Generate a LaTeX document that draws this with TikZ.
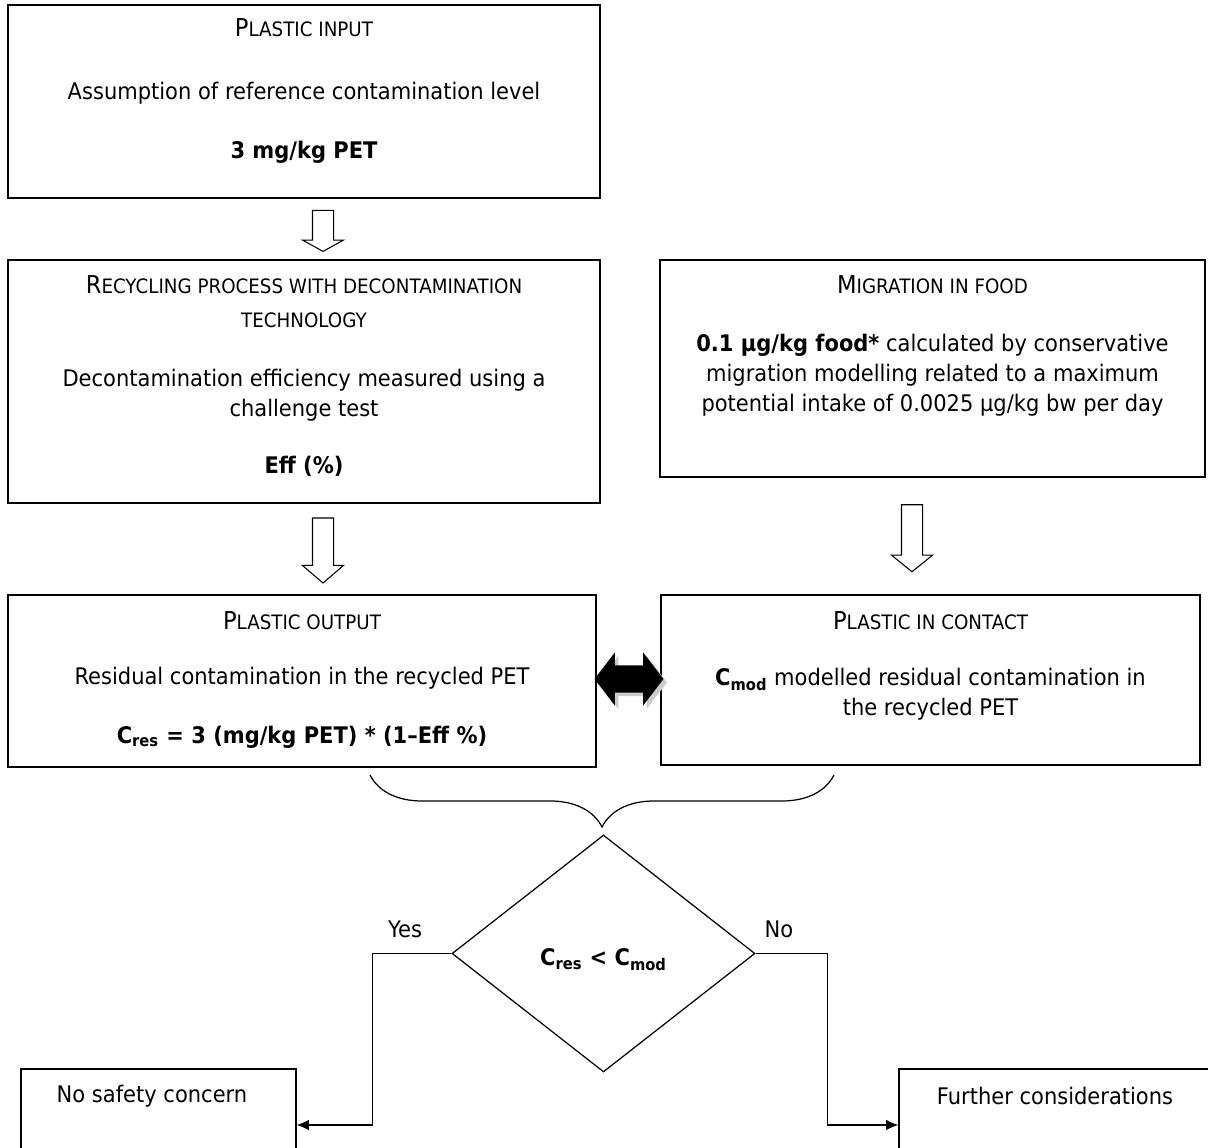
\documentclass[tikz,border=0pt]{standalone}
\usepackage{fontspec}
\setmainfont{DejaVu Sans}[FakeStretch=0.92]
\usetikzlibrary{shapes.geometric,shapes.arrows,shadows,arrows.meta,decorations.pathreplacing}
\newcommand{\smc}[2]{{\fontsize{14}{16}\selectfont #1}{\fontsize{11.3}{13}\selectfont #2}}

\begin{document}
\begin{tikzpicture}[x=0.02cm, y=-0.02cm, line width=0.7pt,
    box/.style={draw, rectangle, inner sep=0pt},
    txt/.style={font=\fontsize{13}{17}\selectfont, inner sep=0pt, align=center},
    hollow/.style={draw, single arrow, shape border rotate=270, inner sep=0.2cm,
        single arrow head extend=0.2cm, line width=0.6pt},
    >={Latex[length=7pt,width=6pt]}]
    \useasboundingbox (0,0) rectangle (1208,1148);

    % Plastic input
    \node[box, minimum width=11.84cm, minimum height=3.86cm] (inp) at (304,101.5) {};
    \node[txt] (inpH) at (304,28) {\smc{P}{LASTIC INPUT}};
    \node[txt] (inpT) at (304,93) {Assumption of reference contamination level};
    \node[txt] (inpV) at (304,152) {\textbf{3 mg/kg PET}};

    % Recycling process
    \node[box, minimum width=11.84cm, minimum height=4.86cm] (rec) at (304,381.5) {};
    \node[txt, font=\fontsize{13}{19}\selectfont] (recH) at (304,301.5)
        {\smc{R}{ECYCLING PROCESS WITH DECONTAMINATION}\\\smc{}{TECHNOLOGY}};
    \node[txt] (recT) at (304,395) {Decontamination efficiency measured using a\\challenge test};
    \node[txt] (recV) at (304,466) {\textbf{Eff (\%)}};

    % Migration in food
    \node[box, minimum width=10.9cm, minimum height=4.34cm] (mig) at (932.5,368.5) {};
    \node[txt] (migH) at (932.5,285) {\smc{M}{IGRATION IN FOOD}};
    \node[txt] (migT) at (932.5,375) {\textbf{0.1 µg/kg food*} calculated by conservative\\
        migration modelling related to a maximum\\potential intake of 0.0025 µg/kg bw per day};

    % Plastic output
    \node[box, minimum width=11.76cm, minimum height=3.44cm] (out) at (302,681) {};
    \node[txt] (outH) at (302,621) {\smc{P}{LASTIC OUTPUT}};
    \node[txt] (outT) at (302,678) {Residual contamination in the recycled PET};
    \node[txt] (outV) at (302,737) {\textbf{C\textsubscript{res} = 3 (mg/kg PET) * (1--Eff \%)}};

    % Plastic in contact
    \node[box, minimum width=10.78cm, minimum height=3.4cm] (con) at (930.5,680) {};
    \node[txt] (conH) at (930.5,621) {\smc{P}{LASTIC IN CONTACT}};
    \node[txt] (conT) at (930.5,694) {\textbf{C\textsubscript{mod}} modelled residual contamination in\\the recycled PET};

    % Block arrows
    \node[hollow, minimum height=0.82cm, single arrow tip angle=122] (a1) at (323,228) {};
    \node[hollow, minimum height=1.3cm, single arrow tip angle=99] (a2) at (323,546) {};
    \node[hollow, minimum height=1.34cm, single arrow tip angle=102] (a3) at (912,534) {};
    \node[double arrow, fill=black, inner sep=0.26cm, minimum height=1.38cm,
        double arrow head extend=0.26cm, double arrow tip angle=105,
        drop shadow={shadow xshift=2pt, shadow yshift=-2pt, fill=black!20, opacity=1}] (link) at (629,679) {};

    % Brace
    \coordinate (brL) at (370,775);
    \coordinate (brR) at (834,775);
    \draw[decorate, decoration={brace, mirror, amplitude=1.04cm}] (brL) -- (brR);

    % Decision
    \node[draw, diamond, inner sep=0pt, minimum width=6.06cm, minimum height=4.74cm] (dec) at (603.5,953.5) {};
    \node[txt] (decT) at (603.5,960) {\textbf{C\textsubscript{res} < C\textsubscript{mod}}};
    \node[txt] (yes) at (405,929) {Yes};
    \node[txt] (no) at (779,929) {No};

    % Outcomes
    \node[box, minimum width=5.5cm, minimum height=2.24cm] (safe) at (158.5,1125) {};
    \node[txt] (safeT) at (152,1096) {No safety concern};
    \node[box, minimum width=6.42cm, minimum height=2.24cm] (fur) at (1059.5,1125) {};
    \node[txt] (furT) at (1055,1096) {Further considerations};

    \draw[->] (dec.west) -- ++(-79,0) |- (safe.east);
    \draw[->] (dec.east) -- ++(72,0) |- (fur.west);
\end{tikzpicture}
\end{document}
